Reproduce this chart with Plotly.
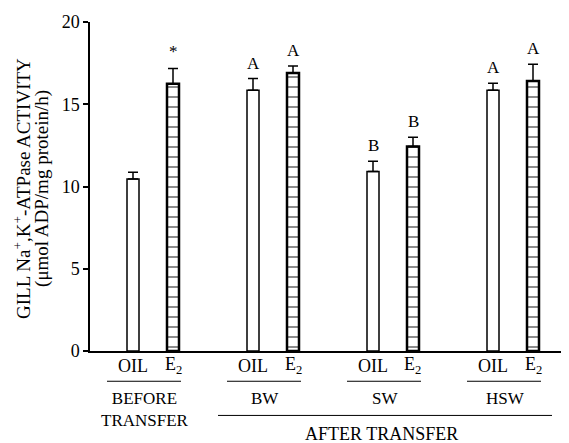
import plotly.graph_objects as go

# ---- data ----
groups = ["BEFORE<br>TRANSFER", "BW", "SW", "HSW"]
treatments = ["OIL", "E<sub>2</sub>"]
oil_values = [10.46, 15.85, 10.91, 15.85]
oil_errors = [0.41, 0.71, 0.63, 0.43]
e2_values = [16.24, 16.90, 12.43, 16.42]
e2_errors = [0.93, 0.42, 0.57, 1.01]
oil_letters = ["", "A", "B", "A"]
e2_letters = ["*", "A", "B", "A"]
after_label = "AFTER TRANSFER"
y_ticks = [0, 5, 10, 15, 20]
y_title = "GILL Na<sup>+</sup>,K<sup>+</sup>-ATPase ACTIVITY<br>(μmol ADP/mg protein/h)"

# ---- layout geometry (page body adds an 8px margin) ----
OFF = 8
W, H = 569 - OFF, 443 - OFF
ML, MR, MT, MB = 82, 4, 6, 92
PW, PH = W - ML - MR, H - MT - MB
XMIN, XMAX = -1.075, 10.8
SERIF = "Liberation Serif, Times New Roman, serif"
FS = 18

oil_x = [3 * i for i in range(len(groups))]
e2_x = [3 * i + 1 for i in range(len(groups))]


def xp(x):
    return (x - XMIN) / (XMAX - XMIN)


def xpx(px):
    return ((px - OFF) - ML) / PW


def yp(px):
    return (MT + PH - (px - OFF)) / PH


def font(size=FS):
    return dict(family=SERIF, size=size, color="black")


fig = go.Figure()
fig.add_trace(go.Bar(
    x=oil_x, y=oil_values, width=0.3,
    marker=dict(color="white", line=dict(color="black", width=1.5)),
    error_y=dict(type="data", array=oil_errors, arrayminus=[0] * len(oil_errors),
                 symmetric=False, color="black", thickness=1.5, width=5),
    showlegend=False,
))
fig.add_trace(go.Bar(
    x=e2_x, y=e2_values, width=0.3,
    marker=dict(color="white", line=dict(color="black", width=2.5),
                pattern=dict(shape="-", size=10, solidity=0.18,
                             fgcolor="black", bgcolor="white")),
    error_y=dict(type="data", array=e2_errors, arrayminus=[0] * len(e2_errors),
                 symmetric=False, color="black", thickness=1.5, width=5),
    showlegend=False,
))

ann = []
for xs, vals, errs, labs in [(oil_x, oil_values, oil_errors, oil_letters),
                             (e2_x, e2_values, e2_errors, e2_letters)]:
    for x, v, e, l in zip(xs, vals, errs, labs):
        if l:
            ann.append(dict(x=x, y=v + e, xref="x", yref="y", text=l, showarrow=False,
                            yanchor="bottom", yshift=4 if l != "*" else 6, font=font(17)))

# treatment labels under each bar
for xs, lab in [(oil_x, treatments[0]), (e2_x, treatments[1])]:
    for x in xs:
        ann.append(dict(x=xp(x), y=yp(366), xref="paper", yref="paper", text=lab,
                        showarrow=False, yanchor="middle", xanchor="center", font=font()))

shapes = []
for i, g in enumerate(groups):
    c = (oil_x[i] + e2_x[i]) / 2
    shapes.append(dict(type="line", xref="paper", yref="paper",
                       x0=xp(c - 1.15), x1=xp(c + 0.7), y0=yp(382), y1=yp(382),
                       line=dict(color="black", width=1)))
    ann.append(dict(x=xp(c - 0.2), y=yp(387.5), xref="paper", yref="paper",
                    text=g, showarrow=False, yanchor="top", xanchor="center",
                    font=font(17)))

shapes.append(dict(type="line", xref="paper", yref="paper",
                   x0=xp(oil_x[1] - 0.875), x1=xp(e2_x[-1] + 0.475),
                   y0=yp(417), y1=yp(417), line=dict(color="black", width=1)))
ann.append(dict(x=xp(6.2), y=yp(436), xref="paper", yref="paper", text=after_label,
                showarrow=False, yanchor="middle", xanchor="center", font=font()))

for k, line in enumerate(y_title.split("<br>")):
    ann.append(dict(x=xpx(22 + 20 * k), y=yp(185), xref="paper", yref="paper",
                    text=line, showarrow=False, textangle=-90,
                    xanchor="center", yanchor="middle", font=font(19)))

fig.update_layout(
    width=W, height=H,
    margin=dict(l=ML, r=MR, t=MT, b=MB),
    paper_bgcolor="white", plot_bgcolor="white",
    barmode="overlay",
    annotations=ann, shapes=shapes,
    xaxis=dict(range=[XMIN, XMAX], showline=True, linecolor="black", linewidth=1.5,
               showgrid=False, zeroline=False, ticks="", showticklabels=False),
    yaxis=dict(range=[0, 20], showline=True, linecolor="black", linewidth=1.5,
               showgrid=False, zeroline=False, ticks="outside", ticklen=5,
               tickwidth=1.5, tickcolor="black", tickvals=y_ticks,
               ticklabeloverflow="allow", tickfont=font()),
)

fig.write_html("out.html")
